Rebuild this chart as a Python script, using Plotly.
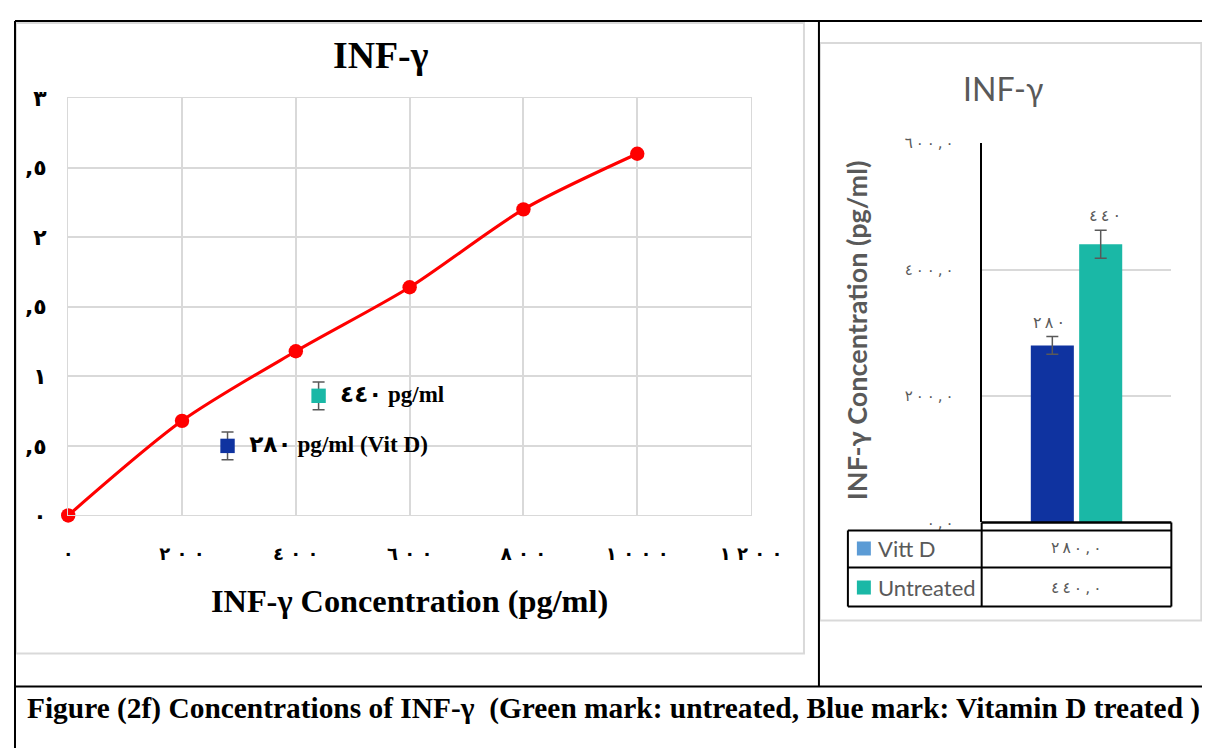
import plotly.graph_objects as go

# measured page transform of the viewer: rendered = A + S * figure_px
AX, AY = 13.7, 20.0
SX, SY = 0.9716, 0.966
REF_W, REF_H = 1210, 748
W = int(round((REF_W - AX) / SX)) + 1
H = int(round((REF_H - AY) / SY)) + 1
def X(r): return ((r - AX) / SX) / W
def Y(r): return 1 - ((r - AY) / SY) / H
K = 1 / SX  # size compensation

AR = "٠١٢٣٤٥٦٧٨٩"
LRO, PDF = "\u202d", "\u202c"
def to_ar(v, sep=""):
    s = [AR[int(c)] if c.isdigit() else c for c in str(v)]
    return LRO + sep.join(s) + PDF

# ---- data ----
std_conc = [0, 200, 400, 600, 800, 1000]
std_od = [0, 0.68, 1.18, 1.64, 2.2, 2.6]
x_ticks = [0, 200, 400, 600, 800, 1000, 1200]
y_ticks = [0, 0.5, 1, 1.5, 2, 2.5, 3]
y_ticktext = ["٠", ",٥", "١", ",٥", "٢", ",٥", "٣"]

vit_conc = [280]
vit_od = [0.5]
vit_err = [0.1]
unt_conc = [440]
unt_od = [0.86]
unt_err = [0.1]

bar_cat = ["INF-γ"]
bar_names = ["Vitt D", "Untreated"]
bar_vals = [280, 440]
bar_errs = [14, 22]
bar_colors = ["#0f33a0", "#1ab8a6"]
legend_key_colors = ["#5b9bd5", "#1ab8a6"]
bar_yticks = [0, 200, 400, 600]

SERIF = "Liberation Serif, DejaVu Sans"
SANS = "Lato, Noto Sans, DejaVu Sans"
DIG = "DejaVu Sans"
GRAY = "#595959"
GRID = "#d9d9d9"
THIN = "\u2009"

fig = go.Figure()

# left chart: standard curve
fig.add_trace(go.Scatter(
    x=std_conc, y=std_od, mode="lines+markers",
    line=dict(color="#ff0000", width=3 * K, shape="spline", smoothing=0.8),
    marker=dict(color="#ff0000", size=14 * K),
    xaxis="x", yaxis="y", showlegend=False, cliponaxis=False))
fig.add_trace(go.Scatter(
    x=vit_conc, y=vit_od, mode="markers+text",
    marker=dict(color="#0f33a0", size=14 * K, symbol="square"),
    error_y=dict(type="data", array=vit_err, color=GRAY, thickness=1.5, width=6),
    text=["  " + to_ar(v) + " pg/ml (Vit D)" for v in vit_conc],
    textposition="middle right",
    textfont=dict(family=SERIF, size=23.2, color="black", weight="bold"),
    xaxis="x", yaxis="y", showlegend=False, cliponaxis=False))
fig.add_trace(go.Scatter(
    x=unt_conc, y=unt_od, mode="markers+text",
    marker=dict(color="#1ab8a6", size=14 * K, symbol="square"),
    error_y=dict(type="data", array=unt_err, color=GRAY, thickness=1.5, width=6),
    text=["  " + to_ar(v) + " pg/ml" for v in unt_conc],
    textposition="middle right",
    textfont=dict(family=SERIF, size=23, color="black", weight="bold"),
    xaxis="x", yaxis="y", showlegend=False, cliponaxis=False))

# right chart: bars
for name, val, err, col in zip(bar_names, bar_vals, bar_errs, bar_colors):
    fig.add_trace(go.Bar(
        x=bar_cat, y=[val], name=name, marker=dict(color=col, line=dict(width=0)),
        error_y=dict(type="data", array=[err], color=GRAY, thickness=1.5, width=6),
        xaxis="x2", yaxis="y2", showlegend=False))

def ann(px, py, text, font, xanchor="center", yanchor="middle", **kw):
    d = dict(x=X(px), y=Y(py), xref="paper", yref="paper", text=text, showarrow=False,
             xanchor=xanchor, yanchor=yanchor, font=font)
    d.update(kw)
    return d

annotations = []
# bar value labels
for i, (val, err) in enumerate(zip(bar_vals, bar_errs)):
    annotations.append(dict(
        x=bar_cat[0], y=val + err, xref="x2", yref="y2",
        xshift=(-28 if i == 0 else 28), yshift=3,
        text=to_ar(val, THIN), showarrow=False, xanchor="center", yanchor="bottom",
        font=dict(family=DIG, size=16, color=GRAY)))

annotations += [
    ann(381, 55, "INF-γ", dict(family=SERIF, size=37.8, color="black", weight="bold")),
    ann(410, 600, "INF-γ Concentration (pg/ml)",
        dict(family=SERIF, size=32.3, color="black", weight="bold")),
    ann(1004, 88, "INF-γ", dict(family=SANS, size=32, color=GRAY)),
    ann(857, 330, "INF-γ Concentration (pg/ml)",
        dict(family=SANS, size=27, color=GRAY, weight="bold"), textangle=-90),
    ann(25, 708, "Figure (2f) Concentrations of INF-γ  (Green mark: untreated, Blue mark: Vitamin D treated )",
        dict(family=SERIF, size=29.4, color="black", weight="bold"), xanchor="left"),
]

# data table rows
row_y = [548, 587]
for name, val, ry in zip(bar_names, bar_vals, row_y):
    annotations.append(ann(877, ry, name, dict(family=SANS, size=22, color=GRAY), xanchor="left"))
    annotations.append(ann(1078, ry, to_ar(str(val) + ",0", THIN),
                           dict(family=DIG, size=15.5, color=GRAY)))

def line(x0, y0, x1, y1, color="black", width=2):
    return dict(type="line", xref="paper", yref="paper", x0=X(x0), y0=Y(y0), x1=X(x1), y1=Y(y1),
                line=dict(color=color, width=width))

TOP = AY + 1      # reference top frame line lies outside the drawable area
LEFT = AX + 1
shapes = [
    dict(type="rect", xref="paper", yref="paper", x0=X(LEFT + 1), y0=Y(TOP + 2), x1=X(805), y1=Y(653),
         line=dict(color=GRID, width=2), layer="below"),
    dict(type="rect", xref="paper", yref="paper", x0=X(821), y0=Y(43), x1=X(1203), y1=Y(620),
         line=dict(color=GRID, width=2), layer="below"),
    line(LEFT, TOP, 1210, TOP),
    line(LEFT, TOP, LEFT, 748),
    line(820, TOP, 820, 686),
    line(LEFT, 686, 1210, 686),
    line(983, 522, 1173, 522, width=2.5),
    line(849, 530, 1173, 530),
    line(849, 567, 1173, 567),
    line(849, 606, 1173, 606),
    line(849, 530, 849, 606),
    line(983, 522, 983, 606),
    line(1173, 522, 1173, 606),
]
for kcol, ry in zip(legend_key_colors, row_y):
    shapes.append(dict(type="rect", xref="paper", yref="paper",
                       x0=X(858), y0=Y(ry - 7), x1=X(872), y1=Y(ry + 7),
                       fillcolor=kcol, line=dict(width=0)))

fig.update_layout(
    width=W, height=H, autosize=False,
    margin=dict(l=0, r=0, t=0, b=0),
    paper_bgcolor="white", plot_bgcolor="white",
    barmode="group", bargap=0.49, bargroupgap=0.11,
    xaxis=dict(domain=[X(68), X(752)], range=[0, 1200], tickvals=x_ticks,
               ticktext=[to_ar(v, " ") for v in x_ticks],
               showgrid=True, gridcolor=GRID, gridwidth=1.5, zeroline=False,
               showline=True, linecolor=GRID, mirror=True, ticks="",
               ticklabelstandoff=22,
               tickfont=dict(family=DIG, size=18, color="black", weight="bold"),
               anchor="y"),
    yaxis=dict(domain=[Y(515), Y(98)], range=[0, 3], tickvals=y_ticks, ticktext=y_ticktext,
               showgrid=True, gridcolor=GRID, gridwidth=1.5, zeroline=False,
               showline=True, linecolor=GRID, mirror=True, ticks="",
               ticklabelstandoff=16,
               tickfont=dict(family=DIG, size=22, color="black", weight="bold"),
               anchor="x"),
    xaxis2=dict(domain=[X(983), X(1173)], showticklabels=False, showgrid=False,
                zeroline=False, showline=False, anchor="y2", fixedrange=True),
    yaxis2=dict(domain=[Y(522), Y(143)], range=[0, 600], tickvals=bar_yticks,
                ticktext=[to_ar(str(v) + ",0", THIN) for v in bar_yticks],
                showgrid=True, gridcolor=GRID, gridwidth=1.5, zeroline=False,
                showline=True, linecolor="black", linewidth=2, ticks="",
                ticklabelstandoff=23,
                tickfont=dict(family=DIG, size=15, color=GRAY),
                anchor="x2"),
    annotations=annotations,
    shapes=shapes,
)

fig.write_html("out.html")
